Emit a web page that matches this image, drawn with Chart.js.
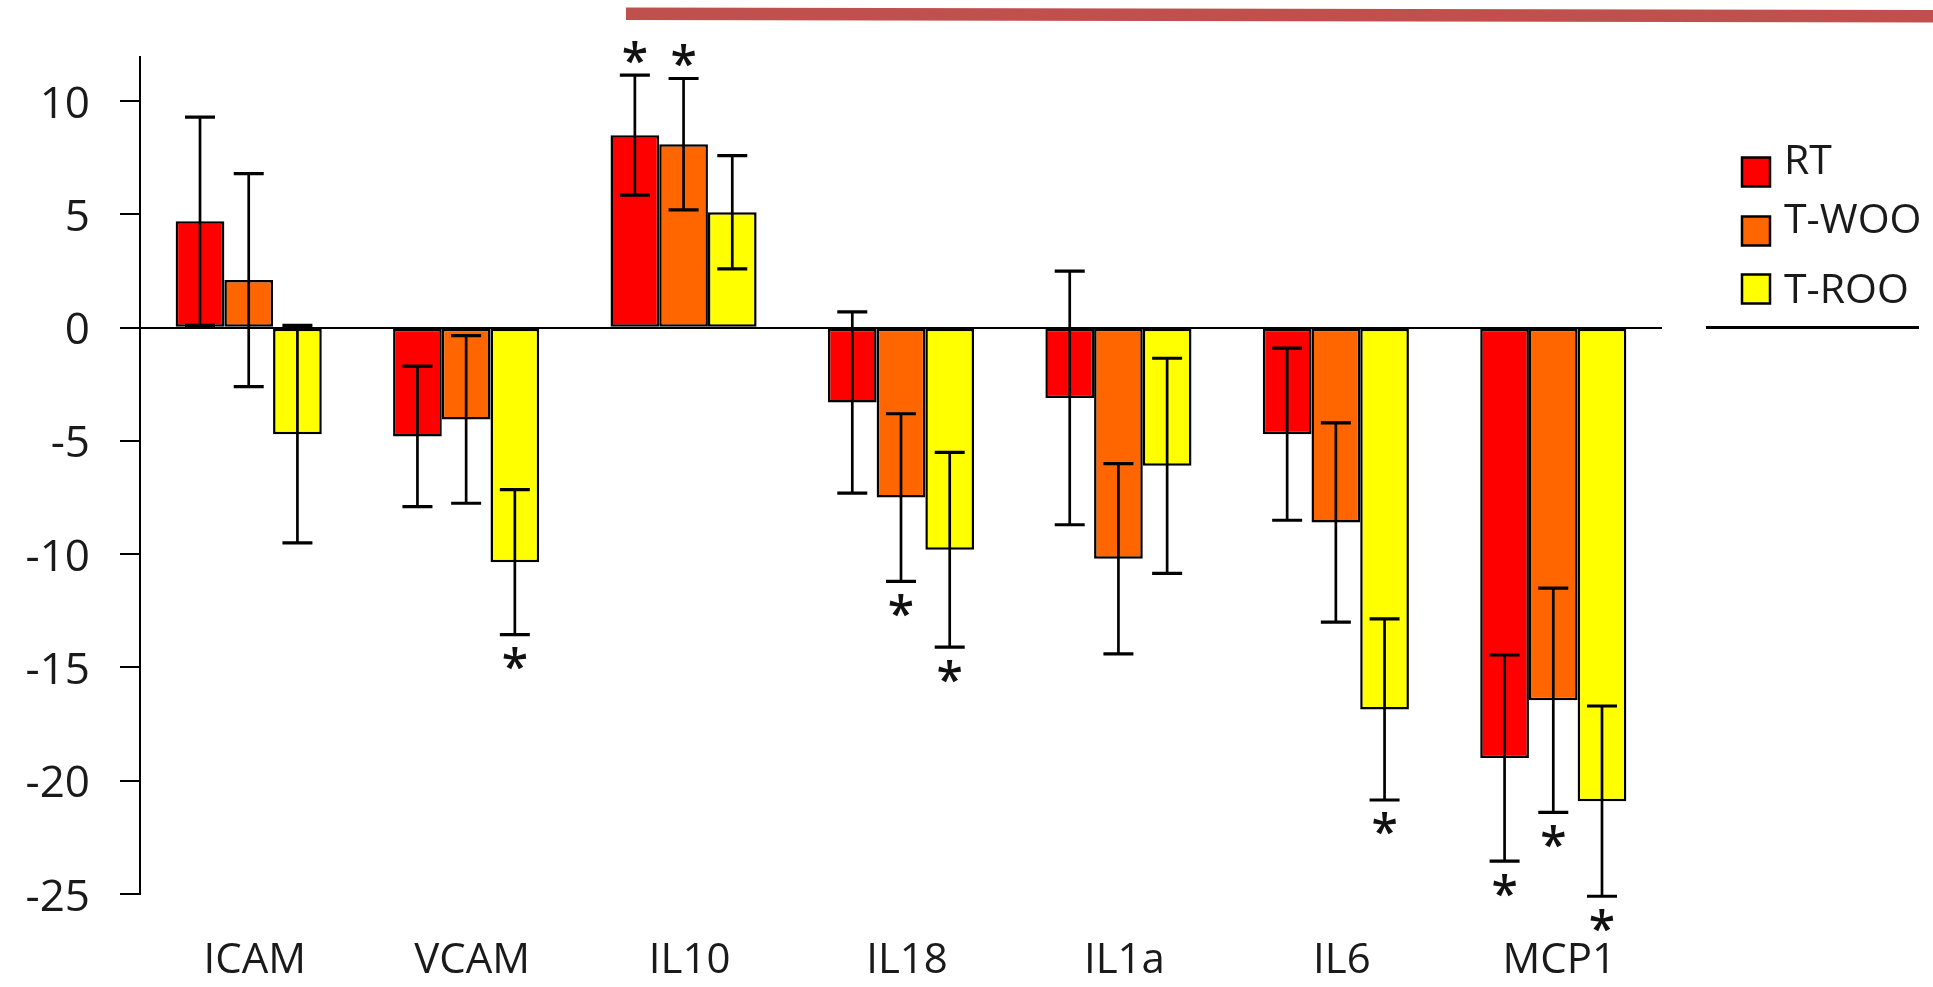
<!DOCTYPE html>
<html><head><meta charset="utf-8">
<script src="https://cdn.jsdelivr.net/npm/chart.js@4.4.1/dist/chart.umd.min.js"></script>
<style>html,body{margin:0;padding:0;background:#fff;overflow:hidden}#wrap{width:1933px;height:987px;position:relative}</style>
</head><body><div id="wrap"><canvas id="c" width="1933" height="987"></canvas></div>
<script>
const categories = ['ICAM', 'VCAM', 'IL10', 'IL18', 'IL1a', 'IL6', 'MCP1'];
const seriesNames = ['RT', 'T-WOO', 'T-ROO'];
const seriesColors = ['#FF0000', '#FF6600', '#FFFF00'];

const rtValues   = [4.7, -4.8, 8.5, -3.3, -3.1, -4.7, -19.0];
const rtErrors   = [4.6, 3.1, 2.65, 4.0, 5.6, 3.8, 4.55];
const twooValues = [2.1, -4.05, 8.1, -7.5, -10.2, -8.6, -16.45];
const twooErrors = [4.7, 3.7, 2.9, 3.7, 4.2, 4.4, 4.95];
const trooValues = [-4.7, -10.35, 5.1, -9.8, -6.1, -16.85, -20.9];
const trooErrors = [4.8, 3.2, 2.5, 4.3, 4.75, 4.0, 4.2];

const rtSignificant   = [false, false, true, false, false, false, true];
const twooSignificant = [false, false, true, true, false, false, true];
const trooSignificant = [false, true, false, true, false, true, true];

const yTickValues = [-25, -20, -15, -10, -5, 0, 5, 10];
const yMin = -25;
const yMax = 11.95;

const valueSets = [rtValues, twooValues, trooValues];
const errorSets = [rtErrors, twooErrors, trooErrors];
const sigSets = [rtSignificant, twooSignificant, trooSignificant];

const FONT = "'Open Sans', 'DejaVu Sans', sans-serif";
const TEXT = '#1a1a1a';

const errorBarPlugin = {
  id: 'errorBars',
  afterDatasetsDraw(chart) {
    const ctx = chart.ctx;
    const ys = chart.scales.y;
    ctx.save();
    ctx.strokeStyle = '#000';
    ctx.fillStyle = '#111';
    ctx.font = '600 48px ' + FONT;
    ctx.textAlign = 'center';
    ctx.textBaseline = 'alphabetic';
    const m = ctx.measureText('*');
    const glyphMid = (m.actualBoundingBoxAscent - m.actualBoundingBoxDescent) / 2;
    chart.data.datasets.forEach((ds, i) => {
      const meta = chart.getDatasetMeta(i);
      meta.data.forEach((bar, j) => {
        const v = valueSets[i][j], e = errorSets[i][j];
        const x = bar.x;
        const yHi = ys.getPixelForValue(v + e);
        const yLo = ys.getPixelForValue(v - e);
        ctx.lineWidth = 2.7;
        ctx.beginPath();
        ctx.moveTo(x, yHi); ctx.lineTo(x, yLo);
        ctx.stroke();
        ctx.lineWidth = 3.2;
        ctx.beginPath();
        ctx.moveTo(x - 15, yHi); ctx.lineTo(x + 15, yHi);
        ctx.moveTo(x - 15, yLo); ctx.lineTo(x + 15, yLo);
        ctx.stroke();
        if (sigSets[i][j]) {
          const cy = v >= 0 ? yHi - 23 : yLo + 24;
          ctx.fillText('*', x, cy + glyphMid);
        }
      });
    });
    ctx.restore();
  }
};

const decorPlugin = {
  id: 'decor',
  afterDraw(chart) {
    const ctx = chart.ctx;
    ctx.save();
    // top accent band
    ctx.fillStyle = '#C0504D';
    ctx.beginPath();
    ctx.moveTo(626, 7.5); ctx.lineTo(1933, 10); ctx.lineTo(1933, 22.5); ctx.lineTo(626, 20);
    ctx.closePath(); ctx.fill();
    // legend
    const sq = [172, 231, 289];
    const tx = [162, 221, 291];
    ctx.font = '41px ' + FONT;
    ctx.textAlign = 'left';
    ctx.textBaseline = 'middle';
    chart.data.datasets.forEach((ds, i) => {
      ctx.fillStyle = ds.backgroundColor;
      ctx.fillRect(1742, sq[i] - 14.5, 28, 29);
      ctx.lineWidth = 2.5;
      ctx.strokeStyle = '#000';
      ctx.strokeRect(1742, sq[i] - 14.5, 28, 29);
      ctx.fillStyle = TEXT;
      ctx.fillText(ds.label, 1784, tx[i]);
    });
    // legend underline
    ctx.strokeStyle = '#000';
    ctx.lineWidth = 3;
    ctx.beginPath(); ctx.moveTo(1706, 327.5); ctx.lineTo(1919, 327.5); ctx.stroke();
    ctx.restore();
  }
};

new Chart(document.getElementById('c'), {
  type: 'bar',
  data: {
    labels: categories,
    datasets: seriesNames.map((name, i) => ({
      label: name,
      data: valueSets[i],
      backgroundColor: seriesColors[i],
      borderColor: '#000',
      borderWidth: 2.5,
      borderSkipped: false,
      barPercentage: 1,
      categoryPercentage: 0.672
    }))
  },
  options: {
    responsive: false,
    animation: false,
    devicePixelRatio: 1,
    layout: { padding: { top: 57, right: 271, bottom: 0, left: 0 } },
    plugins: { legend: { display: false }, tooltip: { enabled: false } },
    scales: {
      x: {
        grid: { display: false, drawTicks: false },
        border: { display: false },
        ticks: { font: { family: FONT, size: 42 }, color: TEXT, padding: 42, labelOffset: 6 },
        afterFit(s) { s.height = 93; }
      },
      y: {
        min: yMin,
        max: yMax,
        afterBuildTicks(s) { s.ticks = yTickValues.map(v => ({ value: v })); },
        ticks: { font: { family: FONT, size: 44 }, color: TEXT, padding: 30, labelOffset: 4 },
        grid: {
          color: c => (c.tick && c.tick.value === 0) ? '#000' : 'rgba(0,0,0,0)',
          lineWidth: 2,
          tickLength: 20,
          tickColor: '#000',
          tickWidth: 2
        },
        border: { display: true, color: '#000', width: 2 },
        afterFit(s) { s.width = 140; }
      }
    }
  },
  plugins: [errorBarPlugin, decorPlugin]
});
</script>
</body></html>
